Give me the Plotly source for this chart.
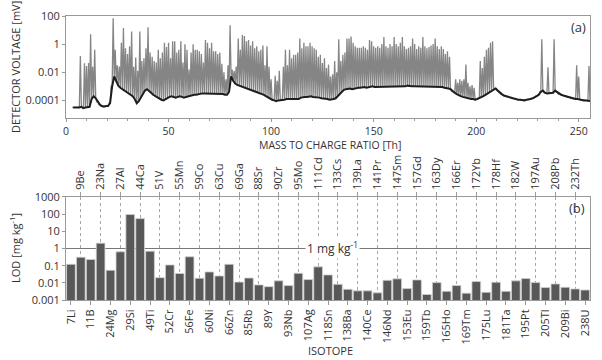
import plotly.graph_objects as go

# ---------------- Panel (a): mass spectrum ----------------
base_mass = list(range(3, 257))
base_log = [
    -4.5, -4.5, -4.55, -4.5, -4.45, -4.55, -4.5, -4.5, -4.45, -3.9,
    -3.7, -3.85, -4.1, -4.3, -4.4, -4.45, -4.4, -4.4, -4.2, -3.0,
    -2.3, -2.7, -2.95, -3.1, -3.2, -3.3, -3.4, -3.5, -3.6, -3.7,
    -3.9, -4.2, -4.05, -3.8, -3.5, -3.3, -3.2, -3.3, -3.45, -3.6,
    -3.7, -3.8, -3.9, -3.95, -4.0, -3.9, -3.8, -3.75, -3.7, -3.75,
    -3.8, -3.75, -3.7, -3.75, -3.8, -3.75, -3.7, -3.7, -3.65, -3.6,
    -3.6, -3.55, -3.55, -3.5, -3.5, -3.5, -3.55, -3.5, -3.5, -3.5,
    -3.55, -3.5, -3.5, -3.55, -3.6, -3.6, -3.4, -2.3, -2.6, -2.8,
    -2.9, -2.95, -3.0, -3.05, -3.1, -3.15, -3.2, -3.25, -3.3, -3.35,
    -3.4, -3.45, -3.5, -3.6, -3.7, -3.8, -3.9, -3.95, -4.0, -4.05,
    -4.0, -4.0, -3.95, -3.95, -3.9, -3.9, -3.9, -3.85, -3.85, -3.9,
    -3.9, -3.8, -3.75, -3.75, -3.75, -3.7, -3.7, -3.75, -3.75, -3.8,
    -3.8, -3.85, -3.85, -3.9, -3.9, -3.95, -3.95, -3.9, -3.85, -3.7,
    -3.5, -3.35, -3.25, -3.2, -3.15, -3.15, -3.2, -3.15, -3.1, -3.1,
    -3.1, -3.05, -3.05, -3.1, -3.05, -3.05, -3.0, -3.05, -3.05, -3.0,
    -3.0, -3.05, -3.0, -3.0, -3.0, -3.0, -3.05, -3.0, -3.0, -3.0,
    -3.0, -3.0, -3.0, -2.95, -3.0, -3.0, -3.0, -3.0, -3.0, -3.05,
    -3.0, -3.0, -3.05, -3.0, -3.0, -3.05, -3.0, -3.05, -3.05, -3.05,
    -3.05, -3.1, -3.1, -3.15, -3.2, -3.35, -3.45, -3.55, -3.65, -3.7,
    -3.75, -3.8, -3.85, -3.85, -3.9, -3.9, -3.95, -3.9, -3.85, -3.8,
    -3.7, -3.6, -3.5, -3.4, -3.3, -3.2, -3.15, -3.3, -3.45, -3.55,
    -3.65, -3.7, -3.75, -3.8, -3.85, -3.9, -3.9, -3.95, -3.95, -4.0,
    -4.0, -3.95, -3.95, -3.9, -3.85, -3.8, -3.7, -3.6, -3.4, -3.3,
    -3.45, -3.5, -3.5, -3.5, -3.45, -3.3, -3.4, -3.55, -3.6, -3.65,
    -3.7, -3.75, -3.8, -3.85, -3.9, -3.9, -3.9, -3.95, -3.95, -4.0,
    -4.0, -4.0, -4.05, -4.05,
]

peak_mass = [
    7, 9, 10, 11, 12, 13, 14, 23, 24, 25, 26, 27, 28, 29, 30, 31, 32, 33, 34, 35,
    36, 37, 38, 39, 40, 41, 42, 43, 44, 45, 46, 47, 48, 49, 50, 51, 52, 53, 54, 55,
    56, 57, 58, 59, 60, 61, 62, 63, 64, 65, 66, 67, 68, 69, 70, 71, 72, 73, 74, 75,
    76, 77, 78, 79, 80, 81, 82, 83, 84, 85, 86, 87, 88, 89, 90, 91, 92, 93, 94, 95,
    96, 97, 98, 99, 100, 102, 103, 104, 106, 107, 108, 109, 110, 111, 112, 113, 114, 115, 116, 117,
    118, 119, 120, 121, 122, 123, 124, 125, 126, 127, 128, 129, 130, 131, 132, 133, 134, 135, 136, 137,
    138, 139, 140, 141, 142, 143, 144, 145, 146, 147, 148, 149, 150, 151, 152, 153, 154, 155, 156, 157,
    158, 159, 160, 161, 162, 163, 164, 165, 166, 167, 168, 169, 170, 171, 172, 173, 174, 175, 176, 177,
    178, 179, 180, 181, 182, 183, 184, 185, 186, 187, 190, 191, 192, 193, 194, 195, 196, 197, 198, 199,
    202, 203, 204, 205, 206, 207, 208, 232, 235, 238, 249, 250, 255,
]
peak_log = [
    -0.85, -1.35, -1.55, -1.35, 0.7, -1.6, -0.4, 1.84, -0.4, -1.5, -1.6, 0.1, 1.15, -0.3, -0.7, -0.15, 0.9, -1.6, -0.95, -1.9,
    0.9, -1.2, -1.0, -0.3, 1.2, -0.6, -0.9, -1.2, -1.3, -0.4, -1.0, -0.6, 0.1, -0.2, 0.1, -1.0, 0.2, 0.2, -0.6, -0.4,
    0.2, -1.3, 0.0, -0.4, -1.8, -0.6, 0.0, -0.4, -0.4, -0.5, -0.7, -1.3, 0.3, 0.1, -0.3, 0.1, -0.5, -0.5, -0.7, -0.6,
    -1.4, -2.0, -2.5, -1.5, 1.34, -1.8, -1.9, -1.6, 0.4, -0.4, 0.65, 0.58, 0.2, 0.3, -0.1, 0.2, -0.3, -0.15, -0.5, -0.4,
    -0.1, -1.5, -0.15, -1.6, -2.5, -2.25, -2.6, -1.9, -1.6, -0.4, -1.5, -0.4, -1.0, -0.75, -0.75, -0.6, 0.4, -0.3, 0.1, -0.15,
    -0.15, 0.1, -0.15, -0.3, -0.4, -0.9, -0.75, -1.35, -1.0, -1.7, -1.45, -2.3, -2.15, -1.2, -2.0, 0.35, -1.2, -0.75, -0.6, 0.4,
    0.4, 0.55, 0.1, -0.15, -0.25, -0.25, -0.25, -0.15, -0.25, -0.4, 0.3, 0.2, -0.15, -0.25, -0.15, -0.25, 0.0, 0.5, -0.15, -0.25,
    0.0, -0.15, 0.5, 0.0, -0.15, 0.1, 0.5, -0.15, -0.35, -0.25, -0.15, 0.4, 0.0, -0.35, -0.15, -0.25, 0.5, -0.15, -0.3, -0.2,
    -0.1, 0.0, 0.4, -0.15, -0.35, -0.15, -0.35, -0.7, -0.5, -0.9, -2.5, -2.75, -2.5, -2.6, -2.5, -1.45, -2.75, -3.0, -2.9, -3.1,
    -1.2, -1.7, -0.9, -0.4, -0.26, 0.1, 0.2, 0.34, -1.65, 0.34, -1.5, -2.3, -1.55,
]

# ---------------- Panel (b): LOD per isotope ----------------
isotopes = [
    "7Li", "9Be", "11B", "23Na", "24Mg", "27Al", "29Si", "44Ca", "49Ti", "51V",
    "52Cr", "55Mn", "56Fe", "59Co", "60Ni", "63Cu", "66Zn", "69Ga", "85Rb", "88Sr",
    "89Y", "90Zr", "93Nb", "95Mo", "107Ag", "111Cd", "118Sn", "133Cs", "138Ba", "139La",
    "140Ce", "141Pr", "146Nd", "147Sm", "153Eu", "157Gd", "159Tb", "163Dy", "165Ho", "166Er",
    "169Tm", "172Yb", "175Lu", "178Hf", "181Ta", "182W", "195Pt", "197Au", "205Tl", "208Pb",
    "209Bi", "232Th", "238U",
]
lod = [
    0.12, 0.31, 0.23, 2.05, 0.054, 0.64, 95, 55, 0.70, 0.020,
    0.11, 0.035, 0.33, 0.0185, 0.043, 0.025, 0.12, 0.011, 0.019, 0.0076,
    0.006, 0.013, 0.0069, 0.036, 0.0155, 0.085, 0.029, 0.0082, 0.0042, 0.0034,
    0.0034, 0.0026, 0.014, 0.017, 0.0046, 0.0148, 0.0021, 0.0103, 0.0032, 0.0069,
    0.0025, 0.0118, 0.0028, 0.0108, 0.0032, 0.013, 0.0177, 0.0103, 0.0053, 0.0086,
    0.0055, 0.0044, 0.0038,
]
ref_level = 1.0
a_ticks = [1e-4, 1e-2, 1, 100]
a_ticktext = ["0.0001", "0.01", "1", "100"]
b_ticks = [1e-3, 1e-2, 1e-1, 1, 10, 100, 1000]
b_ticktext = ["0.001", "0.01", "0.1", "1", "10", "100", "1000"]

# ---------------- build ----------------
peaks = dict(zip(peak_mass, peak_log))
sx, sy = [], []
for m, b in zip(base_mass, base_log):
    sx += [m, m + 0.5]
    sy += [10 ** peaks.get(m, b), 10 ** b]
bx = [m + 0.5 for m in base_mass]
by = [10 ** b for b in base_log]

idx = list(range(len(isotopes)))
bottom_idx = idx[0::2]
top_idx = idx[1::2]

FONT = "Open Sans"
TXT = "#333333"
LINE = "#999999"

fig = go.Figure()
fig.add_trace(go.Scatter(x=sx, y=sy, mode="lines", line=dict(color="#858585", width=1.3),
                         xaxis="x", yaxis="y", hoverinfo="skip"))
fig.add_trace(go.Scatter(x=bx, y=by, mode="lines", line=dict(color="#1e1e1e", width=2),
                         xaxis="x", yaxis="y", hoverinfo="skip"))
fig.add_trace(go.Scatter(x=[idx[0] - 0.5, idx[-1] + 0.5], y=[ref_level, ref_level], mode="lines",
                         line=dict(color="#777777", width=1), xaxis="x2", yaxis="y2", hoverinfo="skip"))
fig.add_trace(go.Bar(x=idx, y=lod, marker=dict(color="#585858", line=dict(color="#d0d0d0", width=0.8)),
                     xaxis="x3", yaxis="y2", width=0.88))

b_range = [idx[0] - 0.5, idx[-1] + 0.5]
fig.update_layout(
    width=602, height=360, showlegend=False,
    paper_bgcolor="white", plot_bgcolor="white",
    margin=dict(l=66, r=12, t=16, b=60, autoexpand=False),
    font=dict(family=FONT, size=11, color=TXT),
    xaxis=dict(domain=[0, 1], anchor="y", range=[0, 255.5], tickvals=[0, 50, 100, 150, 200, 250],
               showline=True, linecolor=LINE, mirror=True, ticks="outside", ticklen=3, tickcolor=LINE,
               minor=dict(dtick=10, ticks="outside", ticklen=2, tickcolor=LINE),
               showgrid=False, zeroline=False, automargin=False, tickfont=dict(size=10.5)),
    yaxis=dict(domain=[0.6408, 1], anchor="x", type="log", range=[-5.25, 2],
               tickvals=a_ticks, ticktext=a_ticktext, showline=True, linecolor=LINE, mirror=True,
               ticks="outside", ticklen=3, tickcolor=LINE, showgrid=False, zeroline=False, automargin=False),
    xaxis2=dict(domain=[0, 1], anchor="y2", range=b_range, tickvals=bottom_idx,
                ticktext=[isotopes[i] for i in bottom_idx], tickangle=-90,
                showline=True, linecolor=LINE, mirror=True, ticks="outside", ticklen=4, tickcolor=LINE,
                showgrid=False, zeroline=False, automargin=False),
    xaxis3=dict(overlaying="x2", anchor="y2", side="top", range=b_range, tickvals=top_idx,
                ticktext=[isotopes[i] for i in top_idx], tickangle=-90,
                ticks="outside", ticklen=4, tickcolor=LINE,
                showgrid=True, gridcolor="#a8a8a8", griddash="dot", gridwidth=1, zeroline=False,
                automargin=False),
    yaxis2=dict(domain=[0, 0.3627], anchor="x2", type="log", range=[-3, 3],
                tickvals=b_ticks, ticktext=b_ticktext, showline=True, linecolor=LINE, mirror=True,
                ticks="outside", ticklen=3, tickcolor=LINE, showgrid=False, zeroline=False, automargin=False),
    bargap=0.12,
)

def px(xp):
    return (xp - 66) / 524

def py(yp):
    return (300 - yp) / 284

ann = [
    dict(text="DETECTOR VOLTAGE [mV]", x=px(15), y=py(67), textangle=-90),
    dict(text="MASS TO CHARGE RATIO [Th]", x=px(330), y=py(144.5), font=dict(size=10.5, color=TXT)),
    dict(text="LOD [mg kg<sup>-1</sup>]", x=px(15), y=py(248), textangle=-90),
    dict(text="ISOTOPE", x=px(330), y=py(350)),
    dict(text="(a)", x=px(578), y=py(27), font=dict(size=13, color=TXT)),
    dict(text="(b)", x=px(577), y=py(208), font=dict(size=13, color=TXT)),
]
for a in ann:
    a.update(xref="paper", yref="paper", showarrow=False, xanchor="center", yanchor="middle")
    a.setdefault("font", dict(size=11, color=TXT))
fig.update_layout(annotations=ann)
fig.add_annotation(text="1 mg kg<sup>-1</sup>", xref="x2", yref="y2", x=(idx[0] + idx[-1]) / 2 + 0.5,
                   y=0, showarrow=False, bgcolor="white", font=dict(size=12, color=TXT),
                   xanchor="center", yanchor="middle", borderpad=1)

fig.write_html("out.html", config={"displayModeBar": False},
               post_script="document.body.style.margin='0';document.body.style.overflow='hidden';")
